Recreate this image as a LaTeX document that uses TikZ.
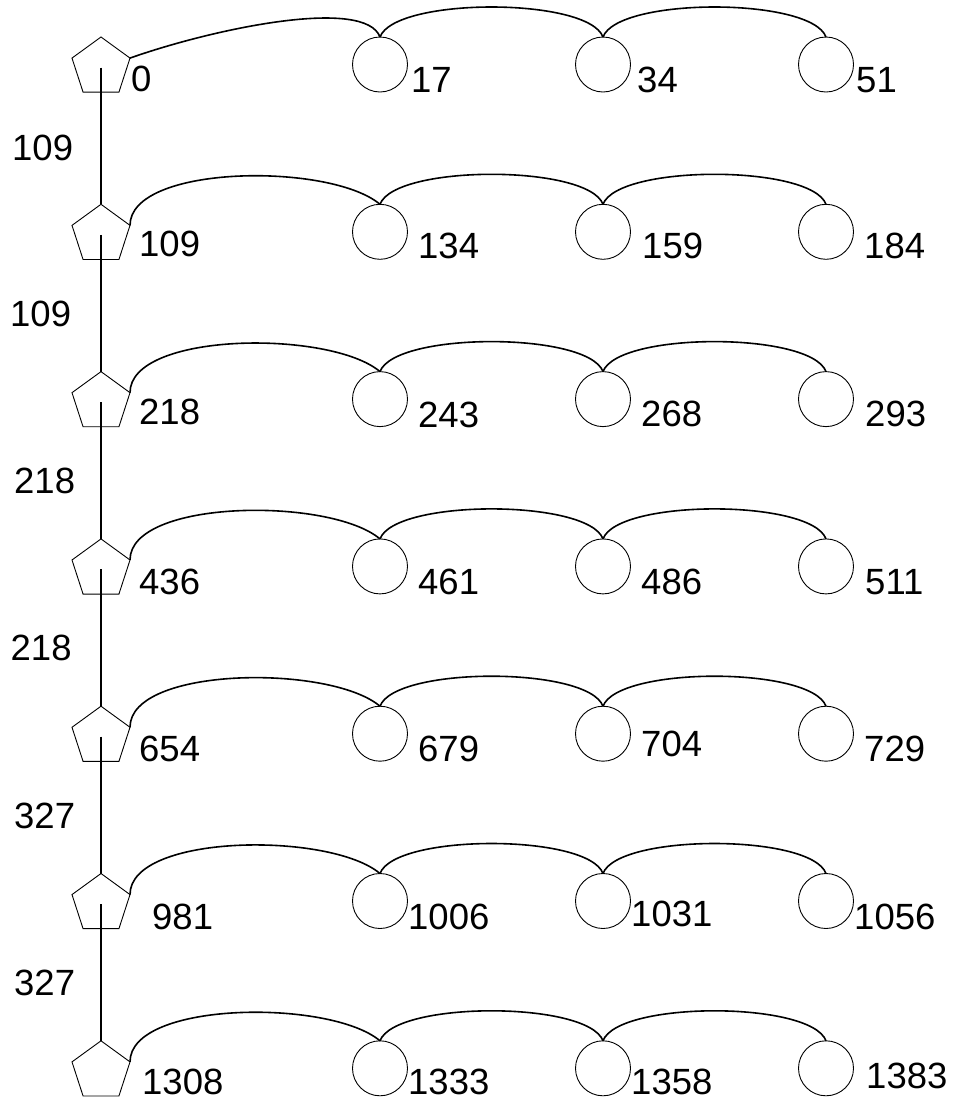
\documentclass[tikz,border=0pt]{standalone}
\usepackage{fontspec}
\setmainfont{Liberation Sans}
\usetikzlibrary{shapes.geometric}
\begin{document}
\begin{tikzpicture}[x=1pt,y=-1pt,
  pent/.style={regular polygon, regular polygon sides=5, draw, line width=0.9pt, minimum size=61pt, inner sep=0pt, outer sep=0pt},
  circ/.style={circle, draw, line width=0.9pt, minimum size=55pt, inner sep=0pt, outer sep=0pt},
  link/.style={line width=1.6pt},
  vlink/.style={line width=1.4pt},
  lab/.style={anchor=base west, inner sep=0pt, font=\fontsize{36.5}{40}\selectfont}]
\useasboundingbox (0,0) rectangle (957,1101);
\foreach \i in {0,...,6}{
  \pgfmathsetmacro\t{37+167.3*\i}
  \node[pent] (p\i) at (101,\t+30.5) {};
  \foreach \j/\x in {1/380,2/603,3/826}{
    \node[circ] (c\i\j) at (\x,\t+27.5) {};
  }
}
% vertical connectors
\foreach \i/\k in {0/1,1/2,2/3,3/4,4/5,5/6}{
  \draw[vlink] (p\i.center) -- (p\k.north);
}
% first row curve
\draw[link] (p0.corner 5) .. controls +(85,-30) and +(-15,-40) .. (c01.north);
% other rows
\foreach \i in {1,...,6}{
  \draw[link] (p\i.corner 5) .. controls +(0,-61) and +(-50,-42) .. (c\i1.north);
}
\foreach \i in {0,...,6}{
  \draw[link] (c\i1.north) .. controls +(15,-40) and +(-15,-40) .. (c\i2.north);
  \draw[link] (c\i2.north) .. controls +(15,-40) and +(-15,-40) .. (c\i3.north);
}
% vertex labels
\foreach \txt/\x/\y [count=\n] in {
  0/131/91.7, 17/411/92, 34/637/92.7, 51/856/92.7,
  109/139/256.7, 134/418/258, 159/642/258, 184/864/258,
  218/139/424, 243/418/427, 268/641/426.7, 293/865/426.7,
  436/139/594, 461/418/594, 486/641/594, 511/865/594,
  654/139/761.7, 679/418/761.7, 704/641/756, 729/864/761.7,
  981/152/929.3, 1006/408/929, 1031/631/926.7, 1056/854/929.3,
  1308/142/1094, 1333/408/1094, 1358/631/1094, 1383/866/1088}{
  \node[lab] (v\n) at (\x,\y) {\txt};
}
% edge labels
\foreach \txt/\x/\y [count=\n] in {
  109/12/160, 109/10/326.7, 218/14/493.3, 218/10.5/660.7, 327/14/828.3, 327/14/995.6}{
  \node[lab] (e\n) at (\x,\y) {\txt};
}
\end{tikzpicture}
\end{document}
